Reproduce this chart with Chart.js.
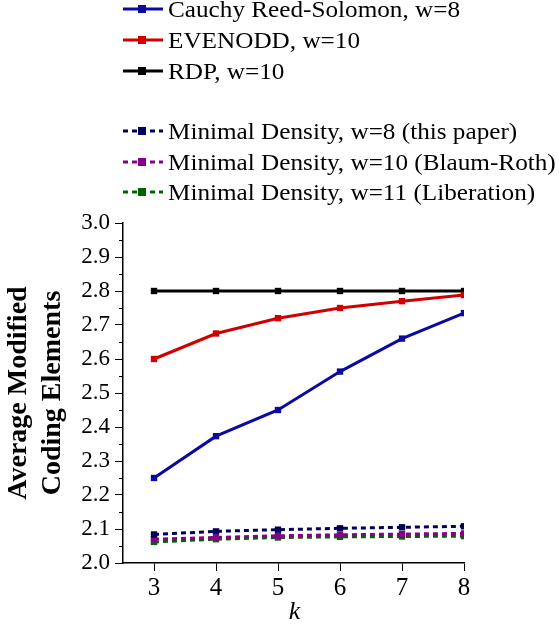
<!DOCTYPE html>
<html>
<head>
<meta charset="utf-8">
<script src="https://cdn.jsdelivr.net/npm/chart.js@4/dist/chart.umd.min.js"></script>
<style>
  html, body { margin: 0; padding: 0; background: #fff; }
  #wrap { width: 559px; height: 629px; }
</style>
</head>
<body>
<div id="wrap"><canvas id="chart" width="559" height="629"></canvas></div>
<script>
// k values on the x axis
const kValues = [3, 4, 5, 6, 7, 8];

// series values
const cauchyRS = [2.25, 2.373, 2.45, 2.563, 2.66, 2.735];
const evenodd = [2.60, 2.675, 2.72, 2.75, 2.77, 2.788];
const rdp = [2.80, 2.80, 2.80, 2.80, 2.80, 2.80];
const mdW8 = [2.084, 2.093, 2.098, 2.102, 2.105, 2.108];
const mdW10 = [2.070, 2.075, 2.080, 2.083, 2.085, 2.087];
const mdW11 = [2.062, 2.070, 2.075, 2.077, 2.078, 2.079];

const seriesLabels = [
  'Cauchy Reed-Solomon, w=8',
  'EVENODD, w=10',
  'RDP, w=10',
  'Minimal Density, w=8 (this paper)',
  'Minimal Density, w=10 (Blaum-Roth)',
  'Minimal Density, w=11 (Liberation)'
];
const yTickValues = [2.0, 2.1, 2.2, 2.3, 2.4, 2.5, 2.6, 2.7, 2.8, 2.9, 3.0];

const SERIF = '"Liberation Serif", "DejaVu Serif", serif';

function makeSet(label, values, color, dashed) {
  return {
    label: label,
    data: values.map((v, i) => ({ x: kValues[i], y: v })),
    borderColor: color,
    backgroundColor: color,
    borderWidth: 3,
    borderDash: dashed ? [5, 4] : [],
    pointStyle: 'rect',
    pointRadius: 4.5,
    pointHoverRadius: 4.5,
    pointBorderWidth: 0,
    tension: 0,
    fill: false
  };
}

const datasets = [
  makeSet(seriesLabels[0], cauchyRS, '#0a0aa0', false),
  makeSet(seriesLabels[1], evenodd, '#d00000', false),
  makeSet(seriesLabels[2], rdp, '#000000', false),
  makeSet(seriesLabels[3], mdW8, '#000058', true),
  makeSet(seriesLabels[4], mdW10, '#880088', true),
  makeSet(seriesLabels[5], mdW11, '#006400', true)
];

// legend at the top, axis titles and minor ticks
const decorations = {
  id: 'decorations',
  afterDraw(chart) {
    const ctx = chart.ctx;
    const rows = [9, 40, 71, 131, 162, 192];
    ctx.save();
    chart.data.datasets.forEach((ds, i) => {
      const y = rows[i];
      ctx.strokeStyle = ds.borderColor;
      ctx.fillStyle = ds.borderColor;
      ctx.lineWidth = 3;
      ctx.setLineDash(ds.borderDash);
      ctx.beginPath();
      ctx.moveTo(123, y);
      ctx.lineTo(163, y);
      ctx.stroke();
      ctx.setLineDash([]);
      ctx.fillRect(138, y - 4, 8, 8);
      ctx.save();
      ctx.fillStyle = '#000';
      ctx.font = '24px ' + SERIF;
      ctx.textBaseline = 'alphabetic';
      ctx.textAlign = 'left';
      ctx.translate(168, y + 8);
      ctx.scale(1.05, 1);
      ctx.fillText(ds.label, 0, 0);
      ctx.restore();
    });

    // minor y ticks
    const ys = chart.scales.y;
    ctx.strokeStyle = '#000';
    ctx.lineWidth = 1;
    for (let v = 2.05; v < 3.0; v += 0.1) {
      const py = Math.round(ys.getPixelForValue(v)) + 0.5;
      ctx.beginPath();
      ctx.moveTo(ys.right - 4, py);
      ctx.lineTo(ys.right, py);
      ctx.stroke();
    }

    // y axis title
    ctx.fillStyle = '#000';
    ctx.font = 'bold 28px ' + SERIF;
    ctx.textAlign = 'center';
    ctx.textBaseline = 'alphabetic';
    const cy = (chart.chartArea.top + chart.chartArea.bottom) / 2;
    ctx.translate(26, cy);
    ctx.rotate(-Math.PI / 2);
    ctx.fillText('Average Modified', 0, 0);
    ctx.fillText('Coding Elements', 0, 34);
    ctx.restore();

    // x axis title
    ctx.save();
    ctx.fillStyle = '#000';
    ctx.font = 'italic 26px ' + SERIF;
    ctx.textAlign = 'center';
    ctx.textBaseline = 'middle';
    const xs = chart.scales.x;
    ctx.fillText('k', (xs.left + xs.right) / 2 + 1, 612);
    ctx.restore();
  }
};

new Chart(document.getElementById('chart'), {
  type: 'line',
  data: { datasets: datasets },
  options: {
    responsive: false,
    animation: false,
    layout: { padding: { top: 223, right: 95, left: 0, bottom: 0 } },
    plugins: {
      legend: { display: false },
      tooltip: { enabled: false }
    },
    scales: {
      x: {
        type: 'linear',
        min: 2.5,
        max: 8,
        afterFit: (s) => { s.height = 66; },
        afterBuildTicks: (s) => { s.ticks = kValues.map(v => ({ value: v })); },
        border: { display: true, color: '#000', width: 1.5 },
        grid: { display: true, drawOnChartArea: false, drawTicks: true, tickLength: 8, color: '#000', tickColor: '#000' },
        ticks: {
          color: '#000',
          padding: 2,
          font: { family: SERIF, size: 25 },
          callback: (v) => String(v)
        }
      },
      y: {
        type: 'linear',
        min: 2.0,
        max: 3.0,
        afterFit: (s) => { s.width = 123; },
        afterBuildTicks: (s) => { s.ticks = yTickValues.map(v => ({ value: v })); },
        border: { display: true, color: '#000', width: 1.5 },
        grid: { display: true, drawOnChartArea: false, drawTicks: true, tickLength: 8, color: '#000', tickColor: '#000' },
        ticks: {
          color: '#000',
          padding: 5,
          font: { family: SERIF, size: 23 },
          callback: (v) => Number(v).toFixed(1)
        }
      }
    }
  },
  plugins: [decorations]
});
</script>
</body>
</html>
